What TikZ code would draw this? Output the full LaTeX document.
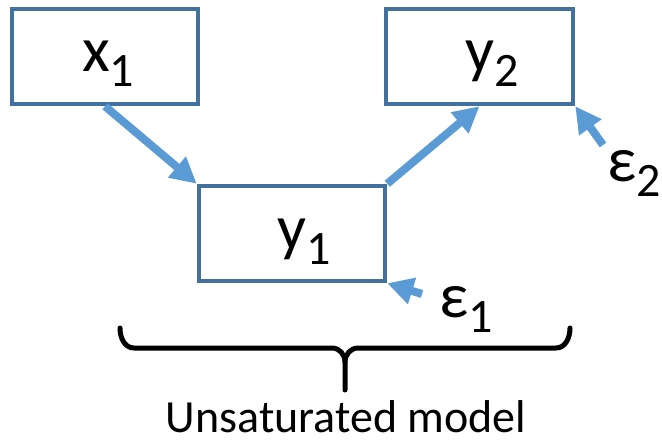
\documentclass[tikz,border=0pt]{standalone}
\usepackage{fontspec}
\setmainfont{Carlito}
\usetikzlibrary{arrows.meta}
\definecolor{boxblue}{HTML}{41719C}
\definecolor{arrblue}{HTML}{5B9BD5}
\newcommand{\symsub}[2]{#1\raisebox{-15pt}{\fontsize{48}{48}\selectfont #2}}

\begin{document}
\begin{tikzpicture}[x=1pt, y=-1pt,
  var/.style={draw=boxblue, line width=4.5pt, minimum width=186pt, minimum height=95pt, inner sep=0pt},
  lbl/.style={anchor=base west, inner sep=0pt, font=\fontsize{64}{64}\selectfont},
  effect/.style={arrblue, line width=8pt, -{Triangle[length=26pt,width=26pt]}}
]
\useasboundingbox (0,0) rectangle (662,441);

\node[var] (x1) at (105,56.5) {};
\node[var, minimum width=187pt] (y2) at (479.5,56.5) {};
\node[var] (y1) at (292,233.5) {};

\node[lbl] (x1t) at (82,72) {\symsub{x}{1}};
\node[lbl] (y2t) at (465,72) {\symsub{y}{2}};
\node[lbl] (y1t) at (277,250) {\symsub{y}{1}};
\node[lbl] (e2) at (607,182) {\symsub{ε}{2}};
\node[lbl] (e1) at (439,317) {\symsub{ε}{1}};

\coordinate (e2tail) at (603,145);
\coordinate (e1tail) at (422,294);

\draw[effect] (x1.south) -- (y1.north west);
\draw[effect] (y1.north east) -- (y2.south);
\draw[effect] (e2tail) -- (y2.south east);
\draw[effect] (e1tail) -- (y1.south east);

% brace under the model
\draw[line width=5pt, line cap=round] (120,328) to[out=-90,in=180] (134,348) -- (332,348)
  to[out=0,in=90] (345,362) -- (345,390);
\draw[line width=5pt, line cap=round] (570,328) to[out=-90,in=0] (556,348) -- (358,348)
  to[out=180,in=90] (345,362);

\node[anchor=base, inner sep=0pt, font=\fontsize{46}{46}\selectfont] (cap) at (346,432) {Unsaturated model};
\end{tikzpicture}
\end{document}
